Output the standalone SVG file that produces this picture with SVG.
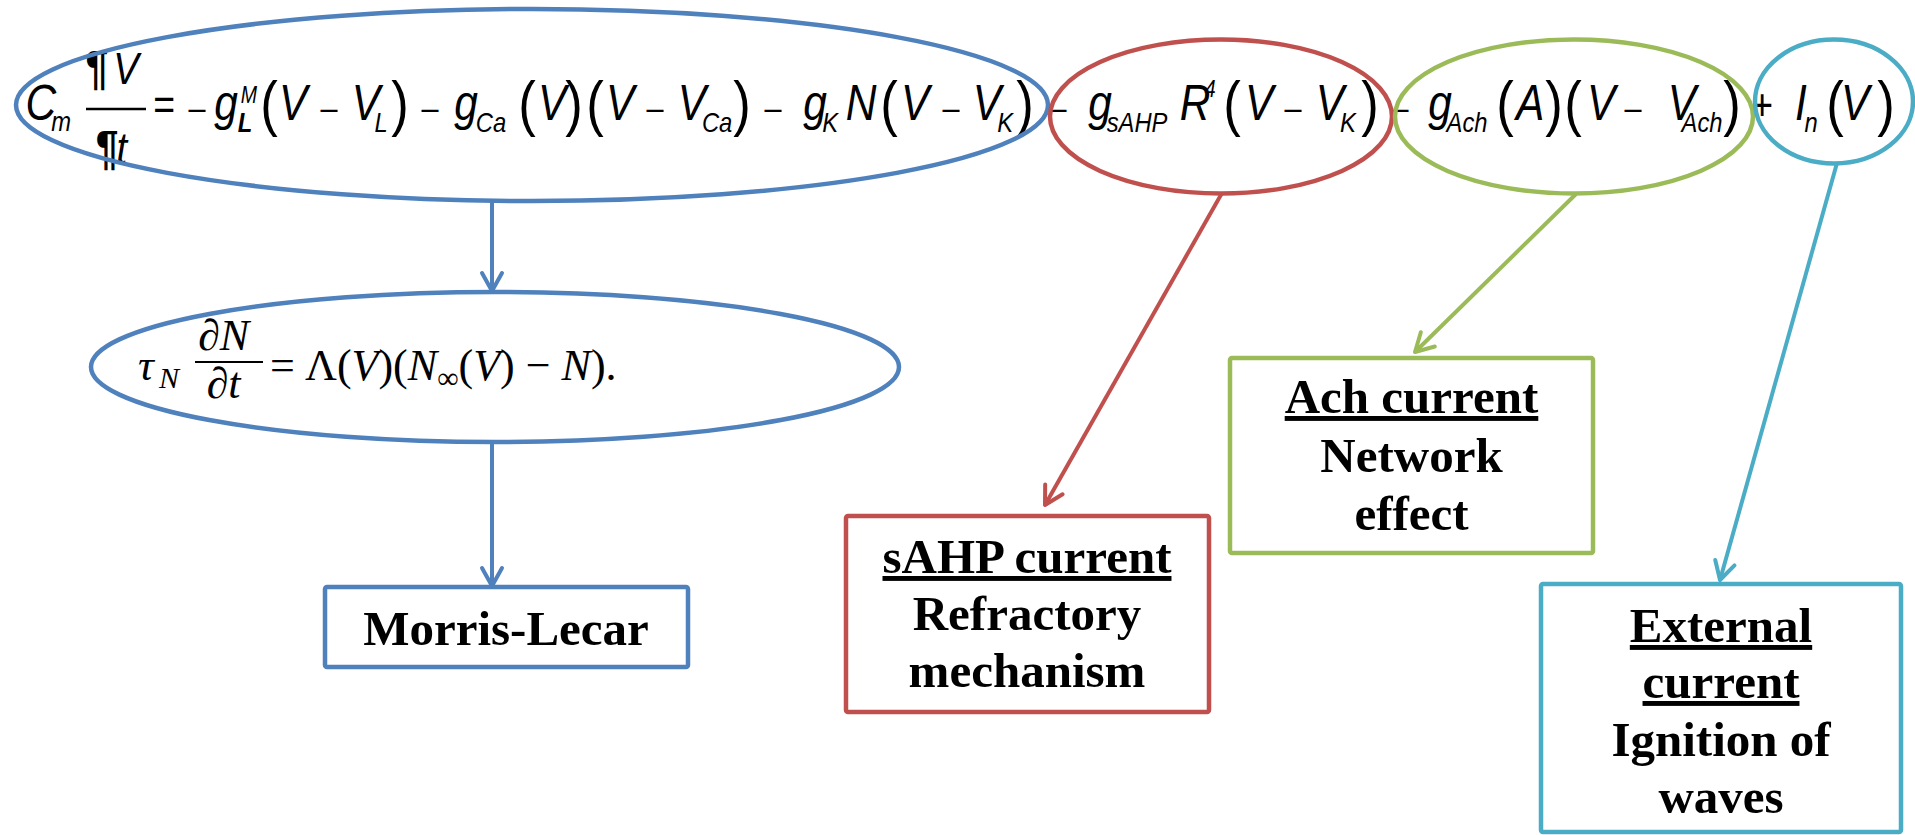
<svg xmlns="http://www.w3.org/2000/svg" width="1915" height="835" viewBox="0 0 1915 835">
<style>
.eq{font-family:"Liberation Sans",Arial,sans-serif;font-style:italic;font-size:50px;fill:#000}
.sub{font-size:28px}
.sup{font-size:23px}
.par{font-style:normal;font-size:62px}
.mn{font-style:normal;font-size:36px}
.up{font-style:normal;font-size:44px}
.fr{font-size:45px}
.pil{font-style:normal;font-weight:bold;font-size:48px}
.bd{font-weight:bold}
.ser{font-family:"Liberation Serif","Times New Roman",serif;font-size:44px;fill:#000}
.it{font-style:italic}
.lbl{font-family:"Liberation Serif","Times New Roman",serif;font-weight:bold;font-size:49px;text-anchor:middle;fill:#000}
.u{text-decoration:underline}
.ell{fill:none;stroke-width:4.5}
.box{fill:#fff;stroke-width:4.5}
.con{fill:none;stroke-width:4}
</style>
<defs>
<marker id="aB" markerUnits="userSpaceOnUse" markerWidth="24" markerHeight="26" viewBox="0 0 24 26" refX="21" refY="13" orient="auto"><path d="M3,3 L21,13 L3,23" fill="none" stroke="#4F81BD" stroke-width="4" stroke-linecap="round" stroke-linejoin="round"/></marker>
<marker id="aR" markerUnits="userSpaceOnUse" markerWidth="24" markerHeight="26" viewBox="0 0 24 26" refX="21" refY="13" orient="auto"><path d="M3,3 L21,13 L3,23" fill="none" stroke="#C0504D" stroke-width="4" stroke-linecap="round" stroke-linejoin="round"/></marker>
<marker id="aG" markerUnits="userSpaceOnUse" markerWidth="24" markerHeight="26" viewBox="0 0 24 26" refX="21" refY="13" orient="auto"><path d="M3,3 L21,13 L3,23" fill="none" stroke="#9BBB59" stroke-width="4" stroke-linecap="round" stroke-linejoin="round"/></marker>
<marker id="aC" markerUnits="userSpaceOnUse" markerWidth="24" markerHeight="26" viewBox="0 0 24 26" refX="21" refY="13" orient="auto"><path d="M3,3 L21,13 L3,23" fill="none" stroke="#4BACC6" stroke-width="4" stroke-linecap="round" stroke-linejoin="round"/></marker>
</defs>
<rect width="1915" height="835" fill="#fff"/>

<g id="equation-main">
<text class="eq" text-anchor="middle" transform="scale(0.85 1)">
<tspan x="48.2" y="120">C</tspan><tspan x="78.8" y="131" class="sub">m</tspan>
<tspan x="114.1" y="84" class="pil">¶</tspan><tspan x="155.3" y="84" class="fr">V</tspan>
<tspan x="125.9" y="164" class="pil">¶</tspan><tspan x="150.4" y="164" class="fr">t</tspan>
<tspan x="200" y="120" class="up">=</tspan>
<tspan x="238.8" y="120" class="mn">–</tspan>
<tspan x="265.9" y="120">g</tspan><tspan x="292.9" y="103" class="sup">M</tspan><tspan x="295.3" y="132" class="sub bd">L</tspan>
<tspan x="323.5" y="124" class="par">(</tspan>
<tspan x="351.8" y="120">V</tspan>
<tspan x="394.1" y="120" class="mn">–</tspan>
<tspan x="430.6" y="120">V</tspan><tspan x="455.3" y="132" class="sub">L</tspan>
<tspan x="477.6" y="124" class="par">)</tspan>
<tspan x="512.9" y="120" class="mn">–</tspan>
<tspan x="548.2" y="120">g</tspan><tspan x="584.7" y="132" class="sub">Ca</tspan>
<tspan x="627.1" y="124" class="par">(</tspan>
<tspan x="656.5" y="120">V</tspan>
<tspan x="682.4" y="124" class="par">)</tspan>
<tspan x="707.1" y="124" class="par">(</tspan>
<tspan x="736.5" y="120">V</tspan>
<tspan x="777.6" y="120" class="mn">–</tspan>
<tspan x="814.1" y="120">V</tspan><tspan x="850.6" y="132" class="sub">Ca</tspan>
<tspan x="880" y="124" class="par">)</tspan>
<tspan x="916.5" y="120" class="mn">–</tspan>
<tspan x="958.8" y="120">g</tspan><tspan x="983.5" y="132" class="sub">K</tspan>
<tspan x="1020" y="120">N</tspan>
<tspan x="1052.9" y="124" class="par">(</tspan>
<tspan x="1083.5" y="120">V</tspan>
<tspan x="1125.9" y="120" class="mn">–</tspan>
<tspan x="1161.2" y="120">V</tspan><tspan x="1189.4" y="132" class="sub">K</tspan>
<tspan x="1212.9" y="124" class="par">)</tspan>
<tspan x="1251.8" y="120" class="mn">–</tspan>
<tspan x="1294.1" y="120">g</tspan><tspan x="1344.7" y="132" class="sub">sAHP</tspan>
<tspan x="1405.9" y="120">R</tspan><tspan x="1430.6" y="97" class="sup">4</tspan>
<tspan x="1456.5" y="124" class="par">(</tspan>
<tspan x="1488.2" y="120">V</tspan>
<tspan x="1528.2" y="120" class="mn">–</tspan>
<tspan x="1564.7" y="120">V</tspan><tspan x="1592.9" y="132" class="sub">K</tspan>
<tspan x="1618.8" y="124" class="par">)</tspan>
<tspan x="1654.1" y="120" class="mn">–</tspan>
<tspan x="1694.1" y="120">g</tspan><tspan x="1732.9" y="132" class="sub">Ach</tspan>
<tspan x="1777.6" y="124" class="par">(</tspan>
<tspan x="1807.1" y="120">A</tspan>
<tspan x="1835.3" y="124" class="par">)</tspan>
<tspan x="1857.6" y="124" class="par">(</tspan>
<tspan x="1890.6" y="120">V</tspan>
<tspan x="1928.2" y="120" class="mn">–</tspan>
<tspan x="1978.8" y="120">V</tspan><tspan x="2009.4" y="132" class="sub">Ach</tspan>
<tspan x="2044.7" y="124" class="par">)</tspan>
<tspan x="2080" y="120" class="up">+</tspan>
<tspan x="2118.8" y="120">I</tspan><tspan x="2137.6" y="132" class="sub">n</tspan>
<tspan x="2165.9" y="124" class="par">(</tspan>
<tspan x="2189.4" y="120">V</tspan>
<tspan x="2218.8" y="124" class="par">)</tspan>
</text>
<line x1="86" y1="109" x2="146" y2="109" stroke="#000" stroke-width="2.5"/>
</g>

<g id="morris-lecar-term">
<ellipse class="ell" cx="532" cy="105" rx="516" ry="96" stroke="#4F81BD"/>
</g>
<g id="sahp-term">
<ellipse class="ell" cx="1221" cy="116.5" rx="171" ry="77" stroke="#C0504D"/>
</g>
<g id="ach-term">
<ellipse class="ell" cx="1574" cy="116.5" rx="179" ry="77" stroke="#9BBB59"/>
</g>
<g id="external-term">
<ellipse class="ell" cx="1834" cy="101.5" rx="79" ry="62" stroke="#4BACC6"/>
</g>

<g id="gating-equation">
<ellipse class="ell" cx="495" cy="367" rx="404" ry="75" stroke="#4F81BD"/>
<text class="ser">
<tspan x="138" y="380" class="it">τ</tspan><tspan x="159" y="388" class="it" font-size="30">N</tspan>
<tspan x="229" y="350" text-anchor="middle">∂<tspan class="it">N</tspan></tspan>
<tspan x="229" y="398" text-anchor="middle">∂<tspan class="it">t</tspan></tspan>
<tspan x="288" y="380" text-anchor="middle">=</tspan>
<tspan x="305" y="380">Λ(<tspan class="it">V</tspan>)(<tspan class="it">N</tspan><tspan font-size="30" dy="8">∞</tspan><tspan dy="-8">(</tspan><tspan class="it">V</tspan>) − <tspan class="it">N</tspan>).</tspan>
</text>
<line x1="195" y1="362" x2="263" y2="362" stroke="#000" stroke-width="2.2"/>
</g>

<g id="connectors">
<line class="con" x1="492" y1="201" x2="492" y2="291" stroke="#4F81BD" marker-end="url(#aB)"/>
<line class="con" x1="492" y1="442" x2="492" y2="586" stroke="#4F81BD" marker-end="url(#aB)"/>
<line class="con" x1="1222" y1="193" x2="1045" y2="505" stroke="#C0504D" marker-end="url(#aR)"/>
<line class="con" x1="1576" y1="194" x2="1415" y2="352" stroke="#9BBB59" marker-end="url(#aG)"/>
<line class="con" x1="1837" y1="163" x2="1720" y2="580" stroke="#4BACC6" marker-end="url(#aC)"/>
</g>

<g id="morris-lecar">
<rect class="box" x="325" y="587" width="363" height="80" rx="2" stroke="#4F81BD"/>
<text class="lbl" x="506" y="645">Morris-Lecar</text>
</g>

<g id="sahp-current">
<rect class="box" x="846" y="516" width="363" height="196" rx="2" stroke="#C0504D"/>
<text class="lbl"><tspan x="1027" y="573" class="u">sAHP current</tspan><tspan x="1027" y="630">Refractory</tspan><tspan x="1027" y="687">mechanism</tspan></text>
</g>

<g id="ach-current">
<rect class="box" x="1230" y="358" width="363" height="195" rx="2" stroke="#9BBB59"/>
<text class="lbl"><tspan x="1411.5" y="413" class="u">Ach current</tspan><tspan x="1411.5" y="472">Network</tspan><tspan x="1411.5" y="530">effect</tspan></text>
</g>

<g id="external-current">
<rect class="box" x="1541" y="584" width="360" height="248" rx="2" stroke="#4BACC6"/>
<text class="lbl"><tspan x="1721" y="642" class="u">External</tspan><tspan x="1721" y="698" class="u">current</tspan><tspan x="1721" y="756">Ignition of</tspan><tspan x="1721" y="813">waves</tspan></text>
</g>
</svg>
